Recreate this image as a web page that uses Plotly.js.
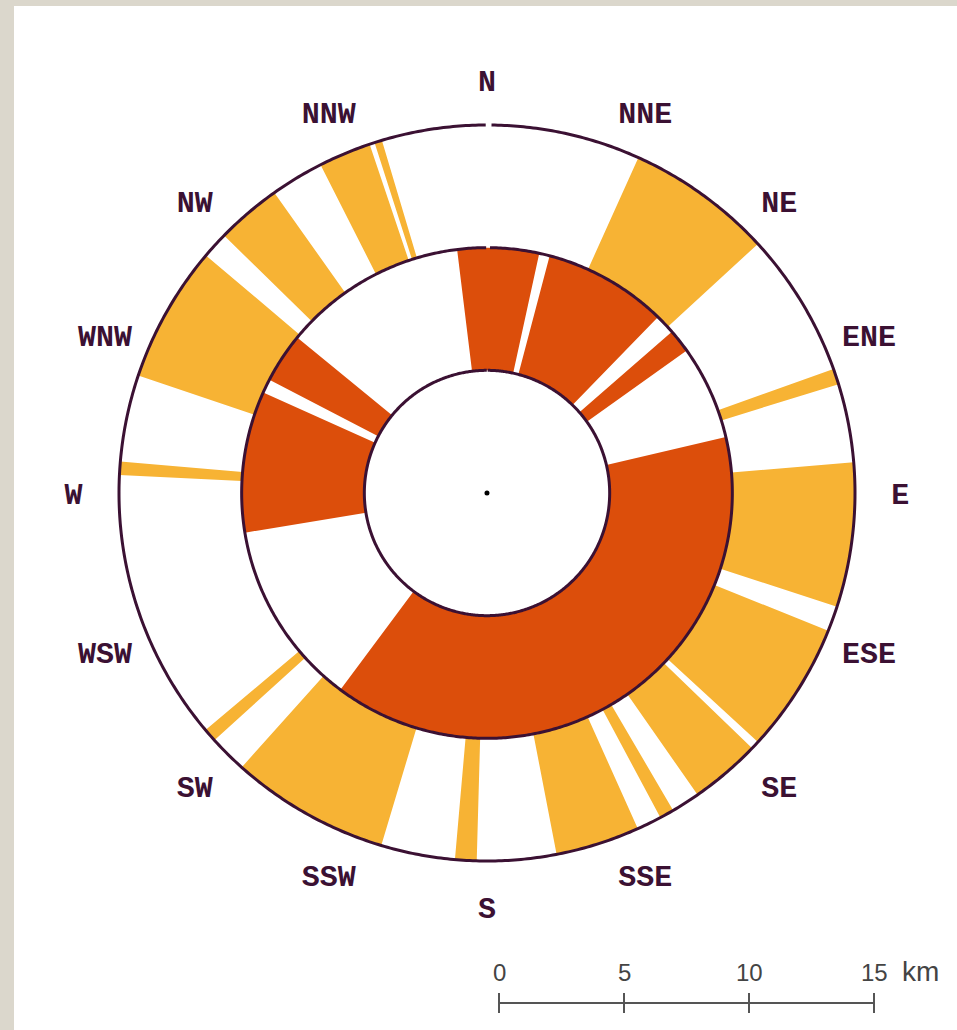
<!DOCTYPE html>
<html><head><meta charset="utf-8">
<script src="https://cdn.plot.ly/plotly-3.0.1.min.js"></script>
<style>
html,body{margin:0;padding:0;background:#fff;overflow:hidden}
#chart{width:957px;height:1030px;position:absolute;left:0;top:0}
.strip{position:absolute;background:#dbd7cc;z-index:5}
</style></head><body>
<div id="chart"></div>
<div class="strip" style="left:0;top:0;width:957px;height:6px"></div>
<div class="strip" style="left:0;top:0;width:14px;height:1030px"></div>
<script>
// Compass labels
const directions = ['N','NNE','NE','ENE','E','ESE','SE','SSE','S','SSW','SW','WSW','W','WNW','NW','NNW'];
const directionAngles = [0,22.5,45,67.5,90,112.5,135,157.5,180,202.5,225,247.5,270,292.5,315,337.5];

// Middle ring (dark orange) segments, degrees clockwise from north
const innerStart = [-7.0, 14.8, 48.9, 76.8, 260.7, 297.5];
const innerEnd   = [12.3, 44.2, 54.5, 216.7, 294.2, 309.3];

// Outer ring (yellow) segments, degrees clockwise from north
const outerStart = [24.3, 70.3, 85.2, 112.0, 133.9, 149.6, 155.8, 181.6, 196.7, 227.8, 272.8, 288.6, 314.4, 333.1, 342.2];
const outerEnd   = [47.4, 72.8, 108.0, 132.6, 145.1, 151.9, 169.1, 185.0, 221.8, 229.9, 274.9, 310.2, 324.7, 341.4, 343.4];

// Scale bar
const scaleTicks = [0, 5, 10, 15];
const scaleLabels = ['0', '5', '10', '15'];
const scaleUnit = 'km';

const W = 957, H = 1030;
const cx = 487, cy = 493;
const RMAX = 3.5, R = 368 * RMAX / 3;
const OUTLINE = '#3b1133';

function mids(s, e){ return s.map((v,i)=>(v+e[i])/2); }
function spans(s, e){ return s.map((v,i)=>e[i]-v); }

function circleTheta(a0, a1){
  const t = [];
  for(let a=a0; a<=a1; a+=0.5) t.push(a);
  t.push(a1);
  return t;
}

const traces = [];
traces.push({
  type:'barpolar', theta: mids(innerStart, innerEnd), width: spans(innerStart, innerEnd),
  r: innerStart.map(()=>1), base: innerStart.map(()=>1),
  marker:{color:'#dc4e0b', line:{width:0}}, hoverinfo:'skip', showlegend:false
});
traces.push({
  type:'barpolar', theta: mids(outerStart, outerEnd), width: spans(outerStart, outerEnd),
  r: outerStart.map(()=>1), base: outerStart.map(()=>2),
  marker:{color:'#f7b334', line:{width:0}}, hoverinfo:'skip', showlegend:false
});
// ring outlines
[[1,0.3,359.9],[2,0.7,359.8],[3,0.7,359.8]].forEach(([rad,a0,a1])=>{
  const th = circleTheta(a0,a1);
  traces.push({type:'scatterpolar', mode:'lines', theta:th, r:th.map(()=>rad),
    line:{color:OUTLINE, width:3}, hoverinfo:'skip', showlegend:false});
});
// center dot
traces.push({type:'scatterpolar', mode:'markers', theta:[0], r:[0],
  marker:{color:'#000', size:5}, hoverinfo:'skip', showlegend:false});
// compass labels (on a twin polar slightly lower, to match text baseline)
traces.push({type:'scatterpolar', subplot:'polar2', mode:'text', theta:directionAngles, r:directionAngles.map(()=>3.37),
  text:directions, textposition:'middle center', cliponaxis:false,
  textfont:{family:'"Courier New", "Liberation Mono", monospace', size:30, weight:'bold', color:OUTLINE},
  hoverinfo:'skip', showlegend:false});

// scale bar shapes/annotations (pixel -> paper)
const px = x => x / W, py = y => 1 - y / H;
const sx0 = 499, pxPerKm = 25, barY = 1003;
const scaleFont = {family:'"Liberation Sans", Arial, sans-serif', size:24, color:'#444'};
const shapes = [{type:'line', xref:'paper', yref:'paper', x0:px(sx0), x1:px(sx0+15*pxPerKm), y0:py(barY), y1:py(barY),
  line:{color:'#555', width:2}}];
const annotations = [];
scaleTicks.forEach((v,i)=>{
  const x = sx0 + v*pxPerKm;
  shapes.push({type:'line', xref:'paper', yref:'paper', x0:px(x), x1:px(x), y0:py(993), y1:py(1013), line:{color:'#555', width:2}});
  annotations.push({xref:'paper', yref:'paper', x:px(x), y:py(972), text:scaleLabels[i],
    xanchor:'center', yanchor:'middle', showarrow:false, font:scaleFont});
});
annotations.push({xref:'paper', yref:'paper', x:px(sx0 + 15*pxPerKm + 26), y:py(971), text:scaleUnit,
  xanchor:'left', yanchor:'middle', showarrow:false,
  font:{family:scaleFont.family, size:28, color:'#444'}});

function polarCfg(dy){
  return {
    domain:{x:[(cx-R)/W, (cx+R)/W], y:[(H-cy-dy-R)/H, (H-cy-dy+R)/H]},
    bgcolor:'rgba(0,0,0,0)', barmode:'overlay', bargap:0,
    radialaxis:{range:[0,RMAX], visible:false},
    angularaxis:{rotation:90, direction:'clockwise', visible:false}
  };
}

const layout = {
  width:W, height:H, margin:{l:0,r:0,t:0,b:0},
  paper_bgcolor:'#fff', plot_bgcolor:'#fff', showlegend:false,
  polar:polarCfg(0),
  polar2:polarCfg(4),
  shapes:shapes, annotations:annotations
};
Plotly.newPlot('chart', traces, layout, {staticPlot:true, displayModeBar:false});
</script>
</body></html>
